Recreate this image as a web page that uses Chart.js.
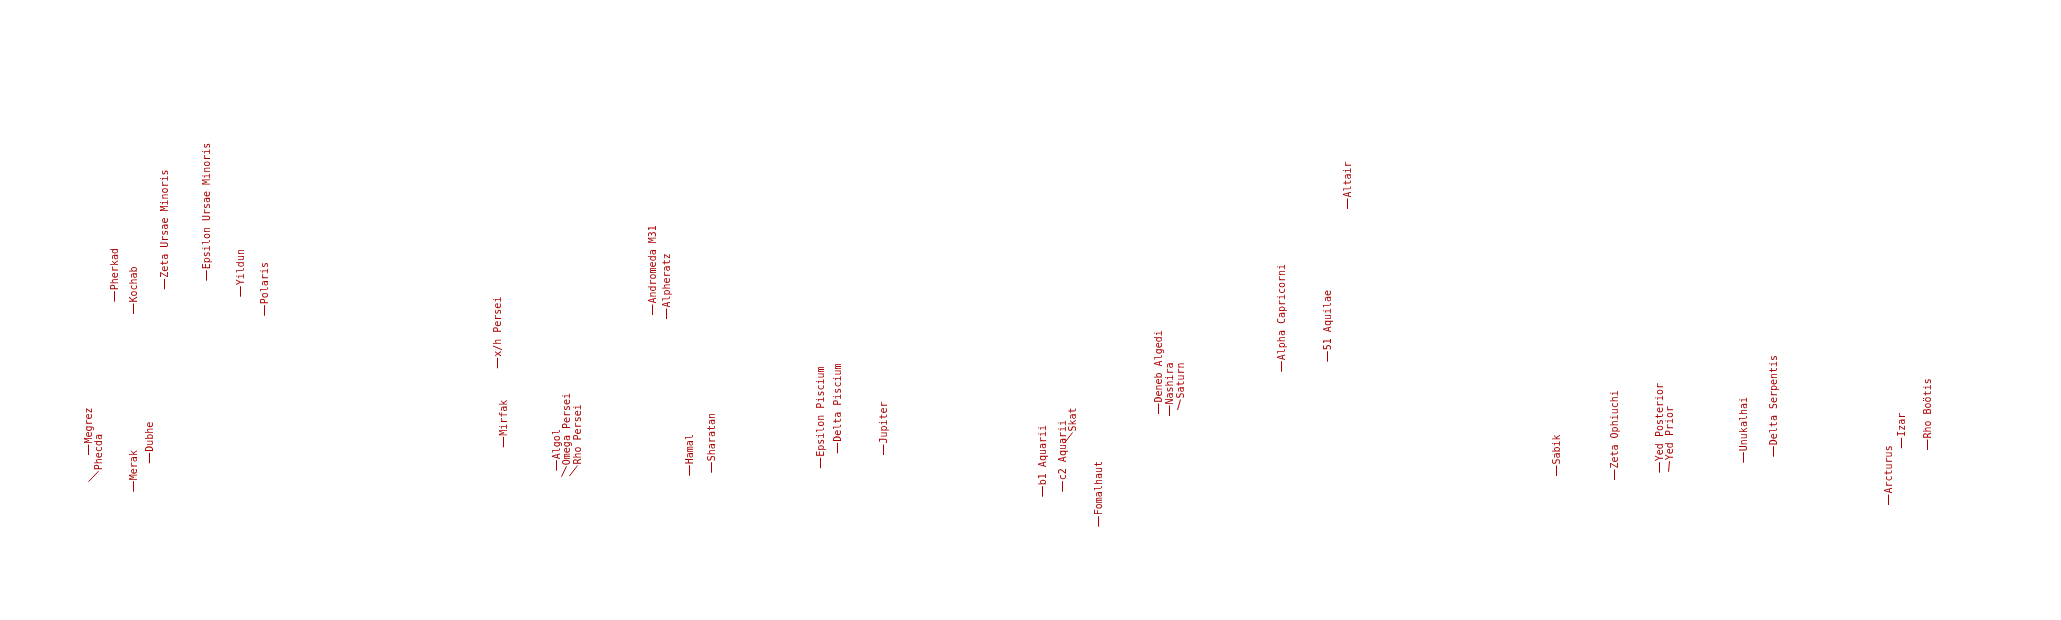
<!DOCTYPE html>
<html>
<head>
<meta charset="utf-8">
<script src="https://cdn.jsdelivr.net/npm/chart.js@4/dist/chart.umd.min.js"></script>
<style>
  html, body { margin: 0; padding: 0; background: #ffffff; }
  #wrap { width: 2061px; height: 620px; position: relative; }
</style>
</head>
<body>
<div id="wrap"><canvas id="c"></canvas></div>
<script>
// Star names (categories)
const starNames = [
  "Megrez", "Phecda", "Merak", "Dubhe", "Pherkad", "Kochab",
  "Zeta Ursae Minoris", "Epsilon Ursae Minoris", "Yildun", "Polaris",
  "x/h Persei", "Mirfak", "Algol", "Omega Persei", "Rho Persei", "Hamal",
  "Andromeda M31", "Alpheratz", "Sharatan", "Epsilon Piscium", "Delta Piscium",
  "Jupiter", "b1 Aquarii", "c2 Aquarii", "Skat", "Fomalhaut",
  "Deneb Algedi", "Nashira", "Saturn", "Alpha Capricorni", "51 Aquilae", "Altair",
  "Sabik", "Zeta Ophiuchi", "Yed Posterior", "Yed Prior",
  "Unukalhai", "Delta Serpentis", "Arcturus", "Izar", "Rho Boötis"
];
// Horizontal position of each object (panorama units)
const azimuth = [
  8.77, 8.83, 13.33, 14.93, 11.43, 13.27,
  16.43, 20.57, 24.03, 26.43,
  49.67, 50.33, 55.60, 56.07, 56.87, 68.87,
  65.17, 66.57, 71.07, 82.00, 83.67,
  88.33, 104.17, 106.17, 106.40, 109.83,
  115.83, 116.93, 117.67, 128.07, 132.73, 134.67,
  155.60, 161.43, 165.93, 166.83,
  174.33, 177.33, 188.83, 190.07, 192.73
];
// Vertical position of each object (altitude units)
const altitude = [
  16.50, 13.83, 12.83, 15.67, 31.83, 30.60,
  33.07, 33.93, 32.33, 30.43,
  25.17, 17.27, 14.93, 14.33, 14.40, 14.43,
  30.50, 30.10, 14.73, 15.17, 16.67,
  16.50, 12.33, 12.83, 17.70, 9.33,
  20.60, 20.40, 21.00, 24.83, 25.83, 41.10,
  14.40, 14.00, 14.73, 14.83,
  15.73, 16.33, 11.50, 17.17, 17.00
];
const xRange = [0, 206.1];
const yRange = [0, 62];

const points = azimuth.map((x, i) => ({ x: x, y: altitude[i] }));

const LABEL_COLOR = '#aa0000';
const LABEL_FONT = '10px "DejaVu Sans Mono", "Liberation Mono", monospace';

const labelPlugin = {
  id: 'starLabels',
  afterDatasetsDraw(chart) {
    const ctx = chart.ctx;
    const meta = chart.getDatasetMeta(0);
    ctx.save();
    ctx.font = LABEL_FONT;
    const placed = [];
    const leader = 10.5;
    const thick = 10;
    meta.data.forEach((el, i) => {
      const name = starNames[i];
      const px = el.x, py = el.y;
      const w = ctx.measureText(name).width;
      const ay = py - leader;
      let ax = px;
      // greedy collision avoidance: nudge right until free
      for (let dx = 0; dx <= 40; dx += 0.5) {
        const cx = px + dx;
        const r = { x0: cx - thick / 2, x1: cx + thick / 2, y0: ay - 1 - w, y1: ay - 1 };
        const hit = placed.some(p => r.x0 < p.x1 && r.x1 > p.x0 && r.y0 < p.y1 && r.y1 > p.y0);
        if (!hit) { ax = cx; placed.push(r); break; }
      }
      // leader line
      ctx.strokeStyle = LABEL_COLOR;
      ctx.lineWidth = 1;
      ctx.beginPath();
      ctx.moveTo(Math.round(px) + 0.5, py);
      ctx.lineTo(Math.round(ax) + 0.5, ay);
      ctx.stroke();
      // rotated label
      ctx.save();
      ctx.translate(Math.round(ax) + 0.5, ay);
      ctx.rotate(-Math.PI / 2);
      ctx.fillStyle = LABEL_COLOR;
      ctx.textAlign = 'left';
      ctx.textBaseline = 'middle';
      ctx.fillText(name, 1, 0.5);
      ctx.restore();
    });
    ctx.restore();
  }
};

new Chart(document.getElementById('c'), {
  type: 'scatter',
  data: {
    datasets: [{
      label: 'Sky objects',
      data: points,
      pointRadius: 0,
      pointHoverRadius: 0,
      backgroundColor: LABEL_COLOR
    }]
  },
  options: {
    responsive: true,
    maintainAspectRatio: false,
    devicePixelRatio: 1,
    animation: false,
    layout: { padding: 0 },
    plugins: { legend: { display: false }, tooltip: { enabled: false }, title: { display: false } },
    scales: {
      x: { type: 'linear', min: xRange[0], max: xRange[1], display: false },
      y: { type: 'linear', min: yRange[0], max: yRange[1], display: false }
    }
  },
  plugins: [labelPlugin]
});
</script>
</body>
</html>
